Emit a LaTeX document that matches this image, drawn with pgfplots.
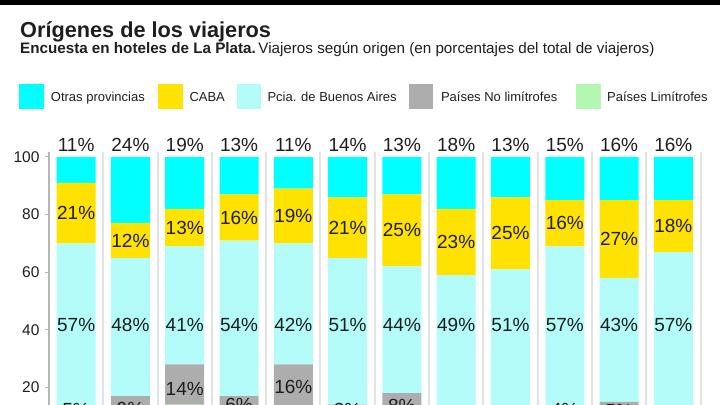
\documentclass[border=0pt]{standalone}
\usepackage{pgfplots}
\pgfplotsset{compat=1.18}
\usepackage{pgfplotstable}
\usepackage{fontspec}
\setmainfont{Liberation Sans}
\definecolor{otras}{HTML}{00FFFF}
\definecolor{caba}{HTML}{FFE200}
\definecolor{pcia}{HTML}{B3FCF9}
\definecolor{nolim}{HTML}{ADADAD}
\definecolor{lim}{HTML}{B3F7B3}
\definecolor{sep}{HTML}{E3E3E3}
\definecolor{axl}{HTML}{B5B5B5}
\definecolor{txt}{HTML}{1E1E1E}

% stacked from bottom: Paises Limitrofes, Paises No limitrofes, Pcia. de Buenos Aires, CABA, Otras provincias
\pgfplotstableread{
x lim nolim pcia caba otras
1  8  5 57 21 11
2  8  9 48 12 24
3 14 14 41 13 19
4 11  6 54 16 13
5 12 16 42 19 11
6 11  3 51 21 14
7 10  8 44 25 13
8  7  3 49 23 18
9  7  3 51 25 14
10 8  4 57 16 15
11 10 5 43 27 16
12 7  3 57 18 16
}\bars

% label positions (y) and values
\pgfplotstableread{
x yO vO yC vC yP vP yG vG
1  104.2 11 80.5 21 41.6 57 12.1  5
2  104.2 24 71.0 12 41.6 48 12.4  9
3  104.2 19 75.5 13 41.6 41 19.6 14
4  104.2 13 79.0 16 41.6 54 13.9  6
5  104.2 11 79.5 19 41.6 42 20.3 16
6  104.2 14 75.5 21 41.6 51 12.0  3
7  104.2 13 74.5 25 41.6 44 13.7  8
8  104.2 18 70.5 23 41.6 49  8.5  3
9  104.2 13 73.5 25 41.6 51  8.5  3
10 104.2 15 77.0 16 41.6 57 12.0  4
11 104.2 16 71.5 27 41.6 43 11.8  5
12 104.2 16 76.0 18 41.6 57  8.5  3
}\labs

\pgfplotsset{
  lab/.style={draw=none, mark=none, point meta=explicit,
    nodes near coords={\pgfmathprintnumber{\pgfplotspointmeta}\%},
    every node near coord/.append style={anchor=center, inner sep=0pt,
      font=\fontsize{19bp}{19bp}\selectfont, text=txt}},
}

\begin{document}
\begin{tikzpicture}[x=1bp,y=1bp]
\begin{scope}
\clip (0bp,0bp) rectangle (720bp,-405bp);
\fill[black] (0bp,0bp) rectangle (720bp,-5bp);
\node[anchor=base west, inner sep=0pt, text=txt, font=\fontsize{21.7bp}{22bp}\selectfont\bfseries] at (20bp,-37.3bp) {Orígenes de los viajeros};
\node[anchor=base west, inner sep=0pt, text=txt, font=\fontsize{15.2bp}{16bp}\selectfont] at (20bp,-53bp) {\textbf{Encuesta en hoteles de La Plata.}\,Viajeros según origen (en porcentajes del total de viajeros)};
% legend
\fill[otras] (19.3bp,-84.3bp) rectangle ++(24.7bp,-24.7bp);
\node[anchor=base west, inner sep=0pt, text=txt, font=\fontsize{13bp}{13bp}\selectfont] at (50.7bp,-101.5bp) {Otras provincias};
\fill[caba] (158.3bp,-84.3bp) rectangle ++(24.7bp,-24.7bp);
\node[anchor=base west, inner sep=0pt, text=txt, font=\fontsize{13bp}{13bp}\selectfont] at (189.3bp,-101.5bp) {CABA};
\fill[pcia] (236.7bp,-84.3bp) rectangle ++(24.7bp,-24.7bp);
\node[anchor=base west, inner sep=0pt, text=txt, font=\fontsize{13bp}{13bp}\selectfont] at (267.3bp,-101.5bp) {Pcia. de Buenos Aires};
\fill[nolim] (408.6bp,-84.3bp) rectangle ++(24.7bp,-24.7bp);
\node[anchor=base west, inner sep=0pt, text=txt, font=\fontsize{13bp}{13bp}\selectfont] at (440.8bp,-101.5bp) {Países No limítrofes};
\fill[lim] (576bp,-84.3bp) rectangle ++(24.7bp,-24.7bp);
\node[anchor=base west, inner sep=0pt, text=txt, font=\fontsize{13bp}{13bp}\selectfont] at (607bp,-101.5bp) {Países Limítrofes};

\begin{axis}[at={(49bp,-445bp)}, anchor=south west, scale only axis,
  width=651.5bp, height=288bp, xmin=0.5, xmax=12.5, ymin=0, ymax=100,
  hide axis, ybar stacked, bar width=39bp]
  \addplot[fill=lim, draw=none] table[x=x,y=lim]{\bars};
  \addplot[fill=nolim, draw=none] table[x=x,y=nolim]{\bars};
  \addplot[fill=pcia, draw=none] table[x=x,y=pcia]{\bars};
  \addplot[fill=caba, draw=none] table[x=x,y=caba]{\bars};
  \addplot[fill=otras, draw=none] table[x=x,y=otras]{\bars};
\end{axis}

\begin{axis}[at={(49bp,-445bp)}, anchor=south west, scale only axis,
  width=651.5bp, height=293.2bp, xmin=0.5, xmax=12.5, ymin=0, ymax=101.8,
  clip=false,
  axis y line*=left, axis x line*=bottom,
  x axis line style={draw=none},
  y axis line style={axl, line width=1.5bp},
  xtick={1.5,2.5,...,12.5}, xticklabels={}, xtick style={draw=none},
  xmajorgrids, major x grid style={sep, line width=2bp},
  ytick={20,40,60,80,100}, ytick style={axl, line width=1bp},
  tick align=outside, major tick length=4bp,
  /pgf/number format/assume math mode=true,
  yticklabel style={font=\fontsize{15.5bp}{15.5bp}\selectfont, text=txt, xshift=-2bp},
  ]
  \addplot[lab] table[x=x,y=yO,meta=vO]{\labs};
  \addplot[lab] table[x=x,y=yC,meta=vC]{\labs};
  \addplot[lab] table[x=x,y=yP,meta=vP]{\labs};
  \addplot[lab] table[x=x,y=yG,meta=vG]{\labs};
\end{axis}
\end{scope}
\pgfresetboundingbox
\useasboundingbox (0bp,0bp) rectangle (720bp,-405bp);
\end{tikzpicture}
\end{document}
